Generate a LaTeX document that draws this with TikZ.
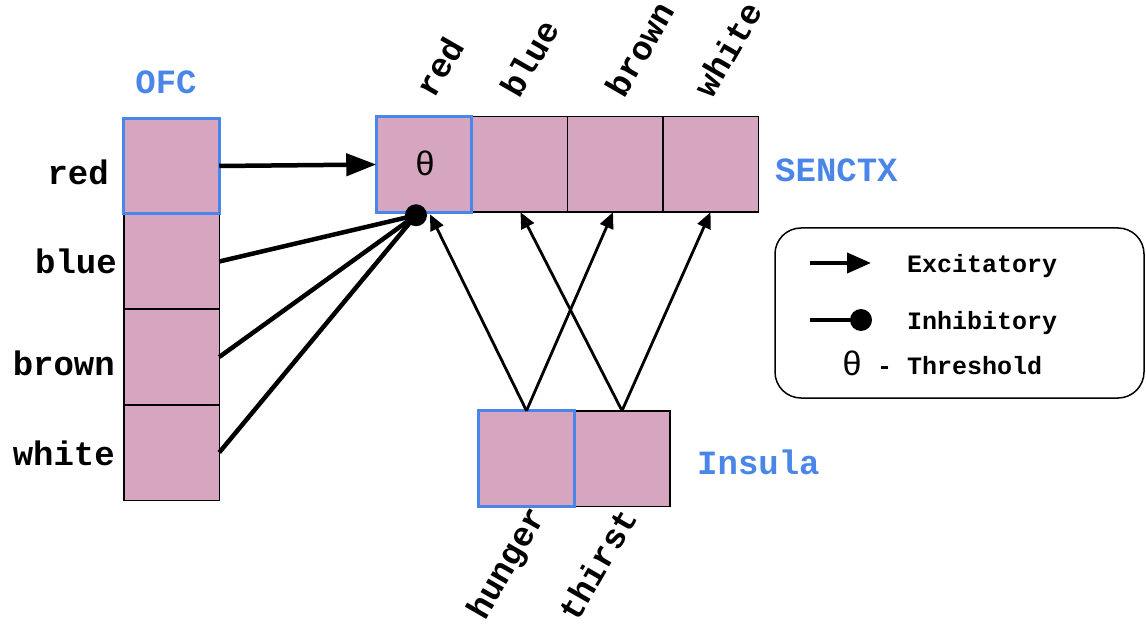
\documentclass[tikz,border=0pt]{standalone}
\usepackage{fontspec}
\setmainfont{Liberation Mono}
\newfontfamily\thetafont{Liberation Sans}
\usetikzlibrary{arrows.meta}
\definecolor{cellpink}{HTML}{D6A5BF}
\definecolor{hlblue}{HTML}{4A86E8}
\begin{document}
\begin{tikzpicture}[x=1pt,y=-1pt,
  cell/.style={draw=black, line width=1.5pt, fill=cellpink, minimum width=95.5pt, minimum height=95.5pt, inner sep=0pt, outer sep=0pt},
  hlcell/.style={draw=hlblue, line width=3pt, minimum width=95.5pt, minimum height=95.5pt, inner sep=0pt, outer sep=0pt},
  lbl/.style={font=\fontsize{34}{36}\selectfont\bfseries, inner sep=0pt, text=black},
  grp/.style={font=\fontsize{34}{36}\selectfont\bfseries, inner sep=0pt, text=hlblue},
  leg/.style={font=\fontsize{25}{27}\selectfont\bfseries, inner sep=0pt, anchor=base west},
  exc/.style={line width=4.5pt, -{Triangle[length=30pt,width=22pt]}},
  inh/.style={line width=4.5pt},
  insarr/.style={line width=2.8pt, -{Triangle[length=16pt,width=14pt]}},
  dotnode/.style={circle, fill=black, minimum size=22pt, inner sep=0pt},
  thetastyle/.style={font=\thetafont\fontsize{34}{35}\selectfont, inner sep=0pt},
]
\useasboundingbox (0,0) rectangle (1146,628);

% OFC column
\node[cell] (o1) at (171.5,166) {};
\node[cell] (o2) at (171.5,261.5) {};
\node[cell] (o3) at (171.5,357) {};
\node[cell] (o4) at (171.5,452.5) {};
\node[hlcell] at (o1) {};

% SENCTX row
\node[cell] (s1) at (424,164.5) {};
\node[cell] (s2) at (519.5,164.5) {};
\node[cell] (s3) at (615,164.5) {};
\node[cell] (s4) at (710.5,164.5) {};
\node[hlcell] at (s1) {};
\node[thetastyle] (th) at (425,163) {θ};

% Insula
\node[cell] (i1) at (526.5,458.5) {};
\node[cell] (i2) at (622,458.5) {};
\node[hlcell] at (i1) {};

% group labels
\node[grp, anchor=base] (lofc) at (166,94) {OFC};
\node[grp, anchor=base west] (lsen) at (775,182) {SENCTX};
\node[grp, anchor=base west] (lins) at (697,474) {Insula};

% OFC row labels
\node[lbl, anchor=base east] (lr) at (109,185) {red};
\node[lbl, anchor=base east] (lb) at (117,274) {blue};
\node[lbl, anchor=base east] (lbr) at (115,375) {brown};
\node[lbl, anchor=base east] (lw) at (115,465) {white};

% SENCTX column labels
\node[lbl, rotate=60, anchor=south west] (tr) at (435,100) {red};
\node[lbl, rotate=60, anchor=south west] (tb) at (520,100) {blue};
\node[lbl, rotate=60, anchor=south west] (tbr) at (625,100) {brown};
\node[lbl, rotate=60, anchor=south west] (tw) at (713,100) {white};

% Insula labels
\node[lbl, rotate=60, anchor=north east] (bh) at (525,503) {hunger};
\node[lbl, rotate=60, anchor=north east] (bt) at (617,505) {thirst};

% connectors
\draw[exc] (o1.east) -- (s1.west);
\node[dotnode] (dot) at ([xshift=-8pt,yshift=-3pt]s1.south) {};
\draw[inh] (o2.east) -- (dot.center);
\draw[inh] (o3.east) -- (dot.center);
\draw[inh] (o4.east) -- (dot.center);

\draw[insarr] (i1.north) -- ([xshift=6pt,yshift=-2pt]s1.south);
\draw[insarr] (i1.north) -- ([xshift=-2pt]s3.south);
\draw[insarr] (i2.north) -- ([xshift=1pt]s2.south);
\draw[insarr] (i2.north) -- (s4.south);

% legend
\node[draw=black, line width=1.5pt, rounded corners=26pt, minimum width=369pt, minimum height=170pt, inner sep=0pt] (legend) at (959.5,313) {};
\coordinate (ea) at (810,263);
\coordinate (eb) at (871,263);
\draw[line width=4pt, -{Triangle[length=24pt,width=20pt]}] (ea) -- (eb);
\node[leg] (lex) at (907,273) {Excitatory};
\coordinate (ia) at (810,320);
\node[dotnode] (dot2) at (861,320) {};
\draw[line width=4pt] (ia) -- (dot2.center);
\node[leg] (lih) at (907,330) {Inhibitory};
\node[thetastyle] (th2) at (852,363) {θ};
\node[leg] (lthr) at (877,374) {- Threshold};
\end{tikzpicture}
\end{document}
